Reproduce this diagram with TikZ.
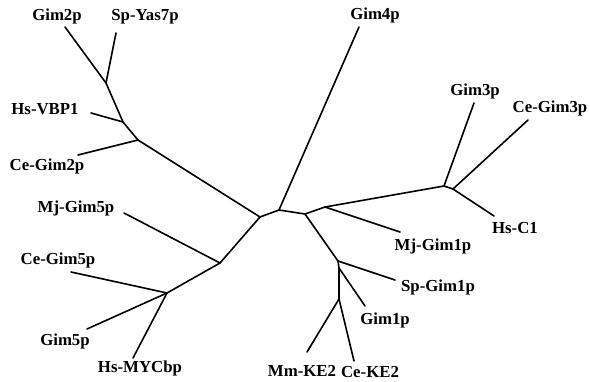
\documentclass[tikz,border=0pt]{standalone}
\usepackage{fontspec}
\setmainfont{Liberation Serif}
\begin{document}
\begin{tikzpicture}[x=1pt,y=-1pt,
  branch/.style={line width=1.6pt,line cap=round,line join=round},
  taxon/.style={font=\fontsize{16.8}{18}\selectfont\bfseries,inner sep=0pt}]
\useasboundingbox (0,0) rectangle (590,381);

% internal nodes of the unrooted tree
\coordinate (A) at (260,217);
\coordinate (B) at (279,210);
\coordinate (C) at (305,214);
\coordinate (D) at (325,207);
\coordinate (G) at (444,186);
\coordinate (H) at (453,189);
\coordinate (E) at (338,261);
\coordinate (E2) at (339,268);
\coordinate (F) at (339,299);
\coordinate (J1) at (106,83);
\coordinate (J2) at (123,122);
\coordinate (J3) at (138,140);
\coordinate (K) at (220,263);
\coordinate (L) at (167,293);

% branch tips
\coordinate (tGim4) at (359,27);
\coordinate (tGim3) at (474,103);
\coordinate (tCeGim3) at (528,120);
\coordinate (tHsC1) at (494,216);
\coordinate (tMjGim1) at (400,232);
\coordinate (tSpGim1) at (395,280);
\coordinate (tGim1) at (365,306);
\coordinate (tMmKE2) at (307,352);
\coordinate (tCeKE2) at (354,361);
\coordinate (tGim2) at (65,27);
\coordinate (tSpYas7) at (116,33);
\coordinate (tHsVBP1) at (91,113);
\coordinate (tCeGim2) at (78,155);
\coordinate (tMjGim5) at (124,213);
\coordinate (tCeGim5) at (71,272);
\coordinate (tGim5) at (87,329);
\coordinate (tHsMYC) at (133,358);

% taxon labels
\node[taxon] (lGim2) at (57,16) {Gim2p};
\node[taxon] (lSpYas7) at (145,17) {Sp-Yas7p};
\node[taxon] (lHsVBP1) at (45,109) {Hs-VBP1};
\node[taxon] (lCeGim2) at (47,166) {Ce-Gim2p};
\node[taxon] (lGim4) at (375,15) {Gim4p};
\node[taxon] (lGim3) at (475,91) {Gim3p};
\node[taxon] (lCeGim3) at (550,108) {Ce-Gim3p};
\node[taxon] (lHsC1) at (515,228) {Hs-C1};
\node[taxon] (lMjGim1) at (433,246) {Mj-Gim1p};
\node[taxon] (lSpGim1) at (438,287) {Sp-Gim1p};
\node[taxon] (lGim1) at (385,320) {Gim1p};
\node[taxon] (lMmKE2) at (302,371) {Mm-KE2};
\node[taxon] (lCeKE2) at (370,372) {Ce-KE2};
\node[taxon] (lMjGim5) at (76,208) {Mj-Gim5p};
\node[taxon] (lCeGim5) at (58,260) {Ce-Gim5p};
\node[taxon] (lGim5) at (65,341) {Gim5p};
\node[taxon] (lHsMYC) at (140,368) {Hs-MYCbp};

% backbone
\draw[branch] (J3) -- (A) -- (B) -- (C) -- (D) -- (G) -- (H);
\draw[branch] (A) -- (K) -- (L);
\draw[branch] (C) -- (E) -- (E2) -- (F);
\draw[branch] (J3) -- (J2) -- (J1);

% terminal branches
\draw[branch] (B) -- (tGim4);
\draw[branch] (G) -- (tGim3);
\draw[branch] (H) -- (tCeGim3);
\draw[branch] (H) -- (tHsC1);
\draw[branch] (D) -- (tMjGim1);
\draw[branch] (E) -- (tSpGim1);
\draw[branch] (E2) -- (tGim1);
\draw[branch] (F) -- (tMmKE2);
\draw[branch] (F) -- (tCeKE2);
\draw[branch] (J1) -- (tGim2);
\draw[branch] (J1) -- (tSpYas7);
\draw[branch] (J2) -- (tHsVBP1);
\draw[branch] (J3) -- (tCeGim2);
\draw[branch] (K) -- (tMjGim5);
\draw[branch] (L) -- (tCeGim5);
\draw[branch] (L) -- (tGim5);
\draw[branch] (L) -- (tHsMYC);
\end{tikzpicture}
\end{document}
